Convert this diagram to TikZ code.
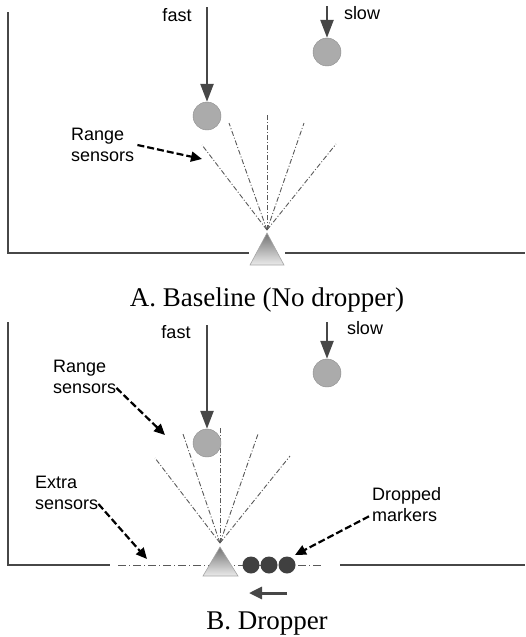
\documentclass[tikz,border=0pt]{standalone}
\usepackage{fontspec}
\setmainfont{Liberation Serif}
\setsansfont{Liberation Sans}
\usetikzlibrary{arrows.meta}

\begin{document}
\begin{tikzpicture}[x=1pt, y=-1pt,
  wall/.style={line width=2pt, draw=black!72},
  fall/.style={line width=2.5pt, draw=black!72, -{Triangle[length=18pt,width=13pt]}},
  hint/.style={line width=2.2pt, dash pattern=on 7pt off 3pt, -{Triangle[length=11pt,width=10pt]}},
  beam/.style={line width=0.9pt, draw=black!65, dash pattern=on 5pt off 2pt on 1pt off 2pt},
  ball/.style={circle, minimum size=28pt, inner sep=0pt, fill=black!33, draw=black!45},
  marker/.style={circle, minimum size=17pt, inner sep=0pt, fill=black!75},
  sensor/.style={top color=black!55, bottom color=black!8, draw=black!35, line width=0.6pt},
  lbl/.style={font=\sffamily\fontsize{18}{21}\selectfont, align=left, inner sep=0pt},
  caption/.style={font=\fontsize{27}{30}\selectfont, inner sep=0pt}]
  \useasboundingbox (0,0) rectangle (525,637);

  % A. baseline
  \coordinate (aTop) at (8,12);
  \coordinate (aCorner) at (8,253);
  \coordinate (aGapL) at (249,253);
  \coordinate (aGapR) at (285,253);
  \coordinate (aEnd) at (525,253);
  \draw[wall] (aTop) -- (aCorner) -- (aGapL);
  \draw[wall] (aGapR) -- (aEnd);

  \coordinate (aS) at (267,230);
  \foreach \x/\y [count=\i] in {202/145, 229/123, 267/115, 304/123, 336/144}
    \draw[beam] (aS) -- (\x,\y) coordinate (aR\i);
  \coordinate (aApex) at (267,233);
  \coordinate (aBaseL) at (250,265);
  \coordinate (aBaseR) at (284,265);
  \path[sensor] (aApex) -- (aBaseR) -- (aBaseL) -- cycle;

  \node[ball] (aFast) at (207,116) {};
  \node[ball] (aSlow) at (327,52) {};
  \coordinate (aFastFrom) at (207,7);
  \coordinate (aSlowFrom) at (327,6);
  \draw[fall] (aFastFrom) -- (aFast.north);
  \draw[fall] (aSlowFrom) -- (aSlow.north);
  \node[lbl] (aFastTxt) at (177,15) {fast};
  \node[lbl] (aSlowTxt) at (362,13) {slow};

  \node[lbl, anchor=west] (aRange) at (71,145) {Range\\sensors};
  \coordinate (aHint) at (202,159);
  \draw[hint] ([xshift=3pt]aRange.east) -- (aHint);

  \node[caption] (aCap) at (267,300) {A. Baseline (No dropper)};

  % B. dropper
  \coordinate (bTop) at (8,322);
  \coordinate (bCorner) at (8,565);
  \coordinate (bGapL) at (110,565);
  \coordinate (bGapR) at (340,565);
  \coordinate (bEnd) at (525,565);
  \draw[wall] (bTop) -- (bCorner) -- (bGapL);
  \draw[wall] (bGapR) -- (bEnd);

  \coordinate (bS) at (220,543);
  \foreach \x/\y [count=\i] in {155/458, 183/434, 220/427, 258/434, 290/456}
    \draw[beam] (bS) -- (\x,\y) coordinate (bR\i);
  \coordinate (bFloorL) at (118,565);
  \coordinate (bFloorR) at (322,565);
  \draw[beam, dash pattern=on 8pt off 3pt on 1pt off 3pt] (bFloorL) -- (bFloorR);
  \coordinate (bApex) at (220,547);
  \coordinate (bBaseL) at (203,576);
  \coordinate (bBaseR) at (238,576);
  \path[sensor] (bApex) -- (bBaseR) -- (bBaseL) -- cycle;

  \foreach \x [count=\i] in {251,269,287}
    \node[marker] (bM\i) at (\x,565) {};
  \coordinate (bMoveFrom) at (287,593);
  \coordinate (bMoveTo) at (249,593);
  \draw[fall, line width=3pt, -{Triangle[length=13pt,width=12pt]}] (bMoveFrom) -- (bMoveTo);

  \node[ball] (bFast) at (207,443) {};
  \node[ball] (bSlow) at (327,373) {};
  \coordinate (bFastFrom) at (207,325);
  \coordinate (bSlowFrom) at (327,322);
  \draw[fall] (bFastFrom) -- (bFast.north);
  \draw[fall] (bSlowFrom) -- (bSlow.north);
  \node[lbl] (bFastTxt) at (176,332) {fast};
  \node[lbl] (bSlowTxt) at (365,328) {slow};

  \node[lbl, anchor=west] (bRange) at (53,377) {Range\\sensors};
  \coordinate (bHint) at (165,435);
  \draw[hint] ([yshift=6pt]bRange.south east) -- (bHint);

  \node[lbl, anchor=west] (bExtra) at (35,493) {Extra\\sensors};
  \coordinate (bExtraHint) at (147,559);
  \draw[hint] ([yshift=6pt]bExtra.south east) -- (bExtraHint);

  \node[lbl, anchor=west] (bDrop) at (372,505) {Dropped\\markers};
  \coordinate (bDropHint) at (295,555);
  \draw[hint] ([xshift=-3pt,yshift=6pt]bDrop.south west) -- (bDropHint);

  \node[caption] (bCap) at (267,624) {B. Dropper};
\end{tikzpicture}
\end{document}
